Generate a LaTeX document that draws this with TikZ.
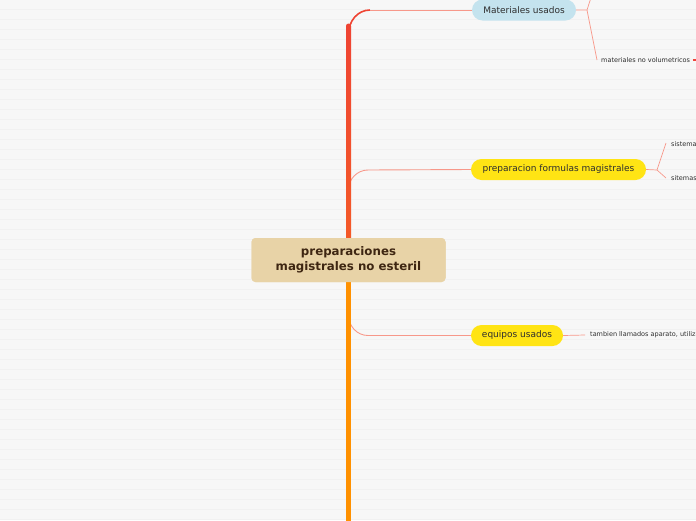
\documentclass[tikz,border=0pt]{standalone}
\usepackage{fontspec}
\setmainfont{DejaVu Sans}
\definecolor{bg}{HTML}{F7F7F7}
\definecolor{stripe}{HTML}{F1F1F1}
\definecolor{trunkred}{HTML}{EF4433}
\definecolor{trunkmid}{HTML}{F45A28}
\definecolor{trunkorange}{HTML}{FF9100}
\definecolor{salmon}{HTML}{F7988A}
\definecolor{paleblue}{HTML}{C4E3EE}
\definecolor{topicyellow}{HTML}{FFE414}
\definecolor{tan}{HTML}{E8D3A7}
\definecolor{darkbrown}{HTML}{3E2612}
\definecolor{txt}{HTML}{2E2E2E}
\definecolor{markred}{HTML}{F0433A}
\tikzset{
  mainnode/.style={fill=tan, rounded corners=4pt, minimum width=194pt, minimum height=44pt,
    align=center, text=darkbrown, font=\fontsize{11.8}{14.5}\selectfont\bfseries, inner sep=0pt},
  topic/.style={rounded corners=10.5pt, minimum height=21pt, inner sep=0pt, text=txt,
    font=\fontsize{9}{10}\selectfont},
  subtext/.style={anchor=west, inner sep=0pt, text=txt, font=\fontsize{6.5}{7}\selectfont},
  subline/.style={draw=salmon, line width=0.7pt},
  branchline/.style={draw=salmon, line width=0.9pt},
}
\begin{document}
\begin{tikzpicture}[x=1pt,y=-1pt]
\useasboundingbox (0,0) rectangle (696,520);
\fill[bg] (0,0) rectangle (696,520);
\foreach \y in {9,19,...,519} \draw[stripe, line width=1pt] (0,\y) -- (696,\y);
\clip (0,0) rectangle (696,520);

% nodes
\node[mainnode] (c) at (348.5,260) {preparaciones\\magistrales no esteril};
\node[topic, fill=paleblue, minimum width=104pt] (m) at (524,10) {Materiales usados};
\node[topic, fill=topicyellow, minimum width=175pt] (p) at (558.5,169.5) {preparacion formulas magistrales};
\node[topic, fill=topicyellow, minimum width=92pt] (e) at (517,335.5) {equipos usados};

\node[subtext] (mv) at (601,60) {materiales no volumetricos};
\node[subtext] (s1) at (671,144) {sistema};
\node[subtext] (s2) at (671,178) {sitemas};
\node[subtext] (t) at (590,335) {tambien llamados aparato, utiliza};

% trunk coordinates
\coordinate (b1) at (370,10);
\coordinate (b2s) at (348.5,190);
\coordinate (b2) at (368,170);
\coordinate (b3s) at (348.5,315);
\coordinate (b3) at (368,335.5);

% branches
\draw[branchline] (b2s) to[out=90,in=180] (b2) -- (p.west);
\draw[branchline] (b3s) to[out=-90,in=180] (b3) -- (e.west);
\draw[draw=trunkred, line width=1.6pt] (348.5,34) to[out=90,in=180] (b1);
\draw[branchline] (b1) -- (m.west);

% trunk
\shade[top color=trunkred, bottom color=trunkmid] (346,26) rectangle (351,240);
\fill[trunkred] (348.5,26) circle (2.5pt);
\fill[trunkorange] (346,280) rectangle (351,525);
\node[mainnode] at (c) {preparaciones\\magistrales no esteril};

% sub-branches of Materiales usados
\coordinate (mj) at (587,10);
\coordinate (mup) at (591.5,-4);
\draw[subline] (m.east) -- (mj) -- (mup);
\draw[subline] (mj) -- ([xshift=-4pt]mv.west);
\coordinate (mvr) at (693,60);
\coordinate (mvo) at (700,60);
\draw[markred, line width=1.2pt] (mvr) -- (mvo);

% sub-branches of preparacion
\coordinate (pj) at (657,170);
\draw[subline] (p.east) -- (pj) -- ([xshift=-5pt,yshift=1pt]s1.west);
\draw[subline] (pj) -- ([xshift=-5pt]s2.west);

% equipos
\draw[subline] (e.east) -- ([xshift=-5pt]t.west);
\end{tikzpicture}
\end{document}
